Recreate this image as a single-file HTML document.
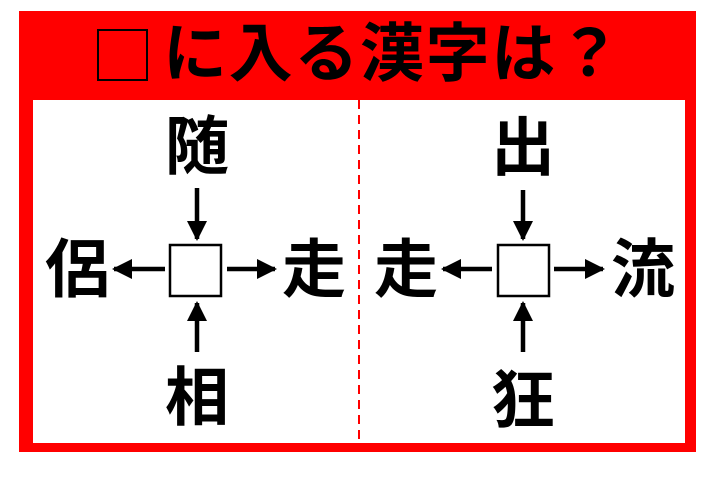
<!DOCTYPE html>
<html><head><meta charset="utf-8"><style>
html,body{margin:0;padding:0;background:#fff;}
svg{display:block}
text{font-family:"Liberation Sans","Noto Sans CJK JP",sans-serif;font-weight:bold;}
</style></head><body>
<svg width="720" height="493" viewBox="0 0 720 493" xmlns="http://www.w3.org/2000/svg">
<defs>
<marker id="a" viewBox="0 0 10 10" refX="9" refY="5" markerWidth="4.5" markerHeight="4.5" orient="auto" markerUnits="strokeWidth"><path d="M0,0 L10,5 L0,10 z" fill="#000"/></marker>
</defs>
<rect x="19" y="11" width="677" height="441" fill="#ff0000"/>
<rect x="33" y="100" width="652" height="343" fill="#fff"/>
<line x1="359" y1="100" x2="359" y2="443" stroke="#ff0000" stroke-width="2" stroke-dasharray="9,6"/>
<rect x="98" y="30" width="49" height="50" fill="none" stroke="#000" stroke-width="2"/>
<text x="163" y="54" font-size="64" dominant-baseline="central" fill="#000" textLength="458" lengthAdjust="spacing">に入る漢字は？</text>
<g fill="#000" font-size="64" text-anchor="middle" dominant-baseline="central">
<text x="197" y="147">随</text>
<text x="77" y="270">侶</text>
<text x="314" y="270">走</text>
<text x="197" y="398">相</text>
<text x="523" y="148">出</text>
<text x="406" y="270">走</text>
<text x="643" y="270">流</text>
<text x="523" y="401">狂</text>
</g>
<rect x="170" y="245" width="51" height="51" fill="#fff" stroke="#000" stroke-width="2.5"/>
<rect x="498" y="245" width="51" height="51" fill="#fff" stroke="#000" stroke-width="2.5"/>
<g stroke="#000" stroke-width="4.5">
<line x1="197" y1="188" x2="197" y2="239" marker-end="url(#a)"/>
<line x1="197" y1="352" x2="197" y2="303" marker-end="url(#a)"/>
<line x1="165" y1="269" x2="114" y2="269" marker-end="url(#a)"/>
<line x1="227" y1="269" x2="275" y2="269" marker-end="url(#a)"/>
<line x1="523" y1="190" x2="523" y2="239" marker-end="url(#a)"/>
<line x1="523" y1="352" x2="523" y2="303" marker-end="url(#a)"/>
<line x1="492" y1="269" x2="443" y2="269" marker-end="url(#a)"/>
<line x1="554" y1="269" x2="603" y2="269" marker-end="url(#a)"/>
</g>
</svg>
</body></html>
